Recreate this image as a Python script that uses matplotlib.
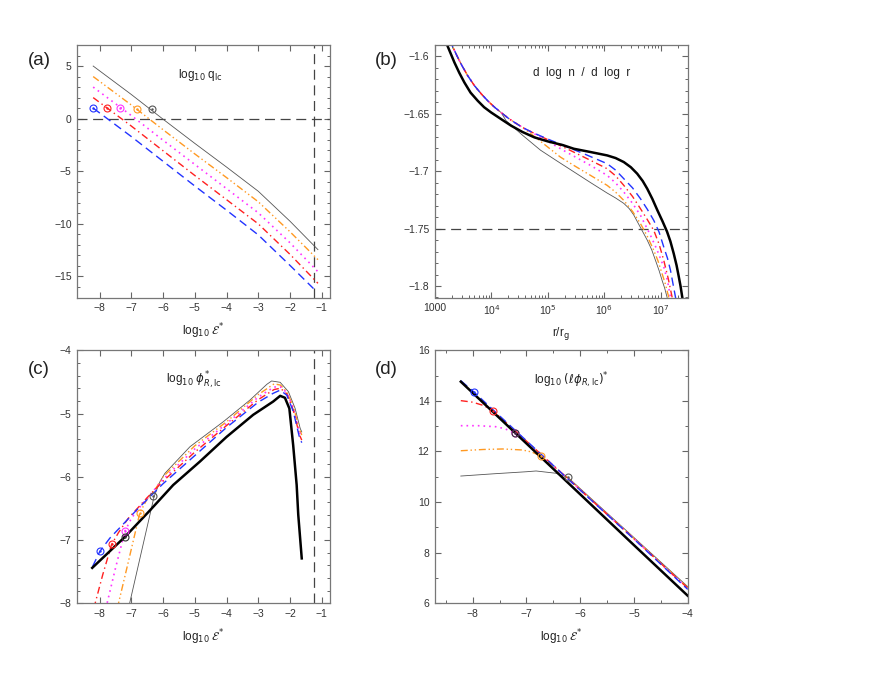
import matplotlib
matplotlib.use('Agg')
import matplotlib.pyplot as plt
import numpy as np
from matplotlib.ticker import MultipleLocator, FixedLocator, FuncFormatter, LogLocator, NullFormatter

plt.rcParams['font.family'] = ['Liberation Sans', 'DejaVu Sans']
plt.rcParams['mathtext.fontset'] = 'dejavusans'

# ---------------- Panel (a): log10 q_lc vs log10 E* ----------------
xa = [-8.2, -7.0, -6.0, -5.0, -4.0, -3.0, -2.0, -1.12]
qa_gray = [5.0, 2.3, -0.05, -2.35, -4.6, -6.9, -9.75, -12.45]
qa_orange = [4.0, 1.3, -1.05, -3.35, -5.6, -7.9, -10.75, -13.4]
qa_magenta = [3.0, 0.3, -2.05, -4.35, -6.65, -8.95, -11.8, -14.55]
qa_red = [2.0, -0.7, -3.05, -5.4, -7.7, -10.0, -12.9, -15.65]
xa_blue = [-8.2, -7.0, -6.0, -5.0, -4.0, -3.0, -2.0, -1.26]
qa_blue = [1.0, -1.7, -4.05, -6.4, -8.7, -11.05, -13.95, -16.15]
ma_x = [-8.2, -7.78, -7.34, -6.83, -6.36]
ma_y = [1.05, 1.0, 1.0, 0.88, 0.87]
ma_c = ['blue', 'red', 'magenta', 'orange', 'gray']

# ---------------- Panel (b): d log n / d log r vs r/r_g (log10 r given) ----------------
lb_black = [3.18, 3.215, 3.27, 3.344, 3.43, 3.52, 3.63, 3.757, 3.87, 3.995, 4.2, 4.349, 4.55,
            4.762, 5.0, 5.264, 5.459, 5.75, 6.05, 6.2, 6.345, 6.47, 6.582, 6.68, 6.76, 6.85,
            6.94, 7.03, 7.11, 7.17, 7.23, 7.28, 7.32, 7.35, 7.38, 7.40]
sb_black = [-1.585, -1.590, -1.5965, -1.6052, -1.6142, -1.6226, -1.6315, -1.6386, -1.6442,
            -1.6488, -1.6555, -1.6603, -1.6658, -1.6705, -1.674, -1.6772, -1.6804, -1.6832,
            -1.6862, -1.6885, -1.692, -1.6965, -1.7021, -1.7085, -1.7152, -1.724, -1.734,
            -1.7435, -1.7525, -1.761, -1.7718, -1.782, -1.7921, -1.80, -1.8095, -1.815]
lb_common = [3.26, 3.30, 3.38, 3.463, 3.58, 3.70, 3.82, 3.934, 4.05, 4.17, 4.29, 4.41, 4.55, 4.70]
sb_common = [-1.585, -1.590, -1.5985, -1.6067, -1.6168, -1.6255, -1.6326, -1.6386, -1.644,
             -1.6488, -1.6535, -1.6575, -1.6618, -1.6656]
lb_blue = [5.0, 5.3, 5.635, 6.05, 6.2, 6.345, 6.5, 6.64, 6.76, 6.876, 6.97, 7.053, 7.12, 7.172, 7.26, 7.28]
sb_blue = [-1.672, -1.678, -1.6847, -1.6934, -1.699, -1.7065, -1.7145, -1.7239, -1.733, -1.7428,
           -1.753, -1.766, -1.776, -1.7863, -1.8095, -1.815]
lb_red = [5.0, 5.3, 5.755, 6.05, 6.2, 6.345, 6.5, 6.64, 6.76, 6.876, 6.97, 7.053, 7.13, 7.2, 7.22]
sb_red = [-1.6725, -1.6795, -1.6905, -1.6978, -1.704, -1.7123, -1.722, -1.7326, -1.742, -1.7515,
          -1.7635, -1.7776, -1.793, -1.8095, -1.815]
lb_magenta = [5.0, 5.3, 5.755, 6.05, 6.2, 6.345, 6.5, 6.64, 6.8, 6.93, 7.053, 7.12, 7.17, 7.19]
sb_magenta = [-1.674, -1.6825, -1.6949, -1.7036, -1.7102, -1.7181, -1.728, -1.7384, -1.754,
              -1.768, -1.7834, -1.7955, -1.8095, -1.815]
lb_orange = [4.55, 4.65, 4.82, 5.0, 5.223, 5.459, 5.755, 6.05, 6.2, 6.345, 6.5, 6.64, 6.76, 6.876,
             6.95, 7.023, 7.08, 7.14, 7.16]
sb_orange = [-1.6618, -1.6655, -1.672, -1.679, -1.6877, -1.6949, -1.7036, -1.7123, -1.7182,
             -1.7254, -1.735, -1.7456, -1.7565, -1.7689, -1.778, -1.7892, -1.798, -1.8095, -1.815]
lb_gray = [4.17, 4.26, 4.56, 4.868, 5.16, 5.46, 5.75, 6.05, 6.2, 6.345, 6.44, 6.52, 6.64, 6.76,
           6.84, 6.906, 6.97, 7.023, 7.07, 7.11, 7.13]
sb_gray = [-1.6488, -1.656, -1.669, -1.6816, -1.691, -1.7005, -1.7097, -1.719, -1.7233, -1.728,
           -1.7325, -1.738, -1.749, -1.760, -1.7685, -1.7776, -1.7865, -1.795, -1.802, -1.8095, -1.815]

# ---------------- Panel (c): log10 phi*_R,lc vs log10 E* ----------------
xc_black = [-8.23, -7.2, -6.41, -5.68, -4.84, -4.0, -3.16, -2.53, -2.31, -2.16, -2.02, -1.9, -1.79, -1.74, -1.63]
yc_black = [-7.44, -6.95, -6.53, -6.13, -5.76, -5.37, -5.02, -4.81, -4.72, -4.75, -4.92, -5.5, -6.13, -6.6, -7.29]
xc_gray = [-7.12, -6.28, -6.1, -5.94, -5.15, -4.1, -3.26, -2.73, -2.58, -2.31, -2.05, -1.84, -1.68, -1.63]
yc_gray = [-8.15, -6.31, -6.08, -5.945, -5.524, -5.129, -4.786, -4.538, -4.485, -4.506, -4.654, -4.917, -5.233, -5.29]
xc_blue = [-8.22, -7.99, -7.675, -6.83, -6.0, -5.0, -4.0, -3.0, -2.53, -2.31, -2.1, -1.9, -1.7, -1.63]
yc_blue = [-7.42, -7.18, -6.97, -6.525, -6.11, -5.665, -5.22, -4.82, -4.68, -4.63, -4.71, -4.96, -5.38, -5.46]
xc_red = [-8.18, -7.9, -7.62, -7.4, -7.1, -6.5, -6.0, -5.0, -4.0, -3.0, -2.5, -2.3, -2.1, -1.9, -1.7, -1.63]
yc_red = [-8.08, -7.55, -7.07, -6.88, -6.66, -6.33, -6.07, -5.61, -5.19, -4.78, -4.62, -4.6, -4.69, -4.94, -5.34, -5.42]
xc_magenta = [-7.8, -7.5, -7.2, -7.0, -6.8, -6.0, -5.0, -4.0, -3.0, -2.5, -2.3, -2.1, -1.9, -1.7, -1.63]
yc_magenta = [-8.08, -7.45, -6.86, -6.66, -6.52, -6.04, -5.56, -5.16, -4.74, -4.58, -4.58, -4.67, -4.91, -5.3, -5.38]
xc_orange = [-7.44, -7.1, -6.73, -6.5, -6.26, -6.0, -5.0, -4.0, -3.0, -2.5, -2.3, -2.1, -1.9, -1.7, -1.63]
yc_orange = [-8.08, -7.36, -6.57, -6.35, -6.21, -6.0, -5.51, -5.13, -4.70, -4.53, -4.55, -4.66, -4.88, -5.25, -5.34]
mc_x = [-7.99, -7.62, -7.2, -7.2, -6.73, -6.3]
mc_y = [-7.18, -7.07, -6.86, -6.95, -6.57, -6.31]
mc_c = ['blue', 'red', 'magenta', 'black', 'orange', 'gray']

# ---------------- Panel (d): log10 (l phi_R,lc)* vs log10 E* ----------------
xd_black = [-8.22, -7.2, -6.0, -5.0, -4.0]
yd_black = [14.76, 12.72, 10.31, 8.30, 6.30]
xd_blue = [-8.22, -7.98, -7.2, -6.23, -5.0, -4.0]
yd_blue = [14.8, 14.36, 12.82, 10.92, 8.54, 6.55]
xd_red = [-8.22, -8.0, -7.8, -7.62, -7.2, -6.23, -5.0, -4.0]
yd_red = [14.01, 13.95, 13.82, 13.61, 12.8, 10.93, 8.55, 6.6]
xd_magenta = [-8.22, -7.9, -7.57, -7.4, -7.21, -6.73, -6.23, -5.0, -4.0]
yd_magenta = [13.02, 13.02, 12.98, 12.9, 12.72, 11.85, 10.93, 8.55, 6.58]
xd_orange = [-8.22, -7.8, -7.44, -7.07, -6.9, -6.73, -6.23, -5.0, -4.0]
yd_orange = [12.03, 12.08, 12.1, 12.06, 11.98, 11.82, 10.95, 8.56, 6.62]
xd_gray = [-8.22, -7.6, -7.0, -6.82, -6.45, -6.23, -5.0, -4.0]
yd_gray = [11.03, 11.12, 11.2, 11.23, 11.14, 10.98, 8.6, 6.66]
md_x = [-7.98, -7.62, -7.21, -7.21, -6.73, -6.23]
md_y = [14.36, 13.61, 12.72, 12.72, 11.82, 10.98]
md_c = ['blue', 'red', 'magenta', 'black', 'orange', 'gray']

STY = {
    'blue': dict(color='#2233ff', lw=1.0, dashes=(6, 3.5)),
    'red': dict(color='#ff2020', lw=1.0, dashes=(5, 2.5, 1, 2.5)),
    'magenta': dict(color='#ff33ff', lw=1.2, dashes=(1, 2.4)),
    'orange': dict(color='#ff9922', lw=1.0, dashes=(5, 2, 1, 2, 1, 2)),
    'gray': dict(color='#555555', lw=0.6),
    'black': dict(color='black', lw=1.8),
}
MCOL = {'blue': '#2233ff', 'red': '#ff2020', 'magenta': '#ff33ff',
        'orange': '#ff9922', 'gray': '#555555', 'black': '#333333'}
REF = dict(color='#444444', lw=0.9, dashes=(8, 4.5))

fig = plt.figure(figsize=(8.72, 6.74), dpi=100)
W = 252.7 / 872
axa = fig.add_axes([77.3 / 872, 1 - 297.5 / 674, W, 252.5 / 674])
axb = fig.add_axes([435 / 872, 1 - 297.5 / 674, W, 252.5 / 674])
axc = fig.add_axes([77.3 / 872, 1 - 603.3 / 674, W, 253 / 674])
axd = fig.add_axes([435 / 872, 1 - 603.3 / 674, W, 253 / 674])


def style_axes(ax):
    for s in ax.spines.values():
        s.set_color('#777777')
        s.set_linewidth(0.9)
    ax.tick_params(which='both', direction='in', top=True, right=True,
                   color='#666666', labelcolor='#333333', labelsize=7.5)
    ax.tick_params(which='major', length=4, width=0.8, pad=4)
    ax.tick_params(which='minor', length=2, width=0.7)


def markers(ax, xs, ys, cs):
    for x, y, c in zip(xs, ys, cs):
        ax.plot([x], [y], 'o', mfc='none', mec=MCOL[c], ms=5, mew=0.8, zorder=5)
        ax.plot([x], [y], '.', color=MCOL[c], ms=1.5, zorder=5)


minus = lambda v, p: ('%g' % v).replace('-', '\u2212')
LABKW = dict(fontsize=8.5, labelpad=6, color='#222222')
TITKW = dict(ha='center', va='center', fontsize=8.5, color='#222222')

# ---- (a)
ax = axa
ax.axhline(0, **REF)
ax.axvline(-1.23, **REF)
ax.plot(xa, qa_gray, **STY['gray'])
ax.plot(xa, qa_orange, **STY['orange'])
ax.plot(xa, qa_magenta, **STY['magenta'])
ax.plot(xa, qa_red, **STY['red'])
ax.plot(xa_blue, qa_blue, **STY['blue'])
markers(ax, ma_x, ma_y, ma_c)
ax.set_xlim(-8.7, -0.74)
ax.set_ylim(-17, 7)
ax.xaxis.set_major_locator(MultipleLocator(1))
ax.yaxis.set_major_locator(MultipleLocator(5))
ax.yaxis.set_minor_locator(MultipleLocator(1))
ax.xaxis.set_major_formatter(FuncFormatter(minus))
ax.yaxis.set_major_formatter(FuncFormatter(minus))
ax.text(0.486, 0.881, r'log$_{10}$ q$_{\mathrm{lc}}$', transform=ax.transAxes, **TITKW)
ax.set_xlabel(r'log$_{10}$ $\mathcal{E}^{*}$', **LABKW)

# ---- (b)
ax = axb
ax.set_xscale('log')
ax.axhline(-1.75, **REF)
ax.plot(10 ** np.array(lb_common[:9] + lb_gray), sb_common[:9] + sb_gray, **STY['gray'])
n_or = len([v for v in lb_common if v < 4.55])
for name, lx, sy in [('orange', lb_orange, sb_orange), ('magenta', lb_magenta, sb_magenta),
                     ('red', lb_red, sb_red), ('blue', lb_blue, sb_blue)]:
    if name == 'orange':
        cx = lb_common[:n_or] + lx
        cy = sb_common[:n_or] + sy
    else:
        cx = lb_common + lx
        cy = sb_common + sy
    ax.plot(10 ** np.array(cx), cy, **STY[name])
ax.plot(10 ** np.array(lb_black), sb_black, **STY['black'])
ax.set_xlim(1e3, 3e7)
ax.set_ylim(-1.81, -1.59)
ax.xaxis.set_major_locator(FixedLocator([1e3, 1e4, 1e5, 1e6, 1e7]))
ax.xaxis.set_major_formatter(FuncFormatter(
    lambda v, p: '1000' if abs(v - 1e3) < 1 else r'10$^{%d}$' % round(np.log10(v))))
ax.xaxis.set_minor_locator(LogLocator(base=10, subs=np.arange(2, 10)))
ax.xaxis.set_minor_formatter(NullFormatter())
ax.yaxis.set_major_locator(FixedLocator([-1.8, -1.75, -1.7, -1.65, -1.6]))
ax.yaxis.set_minor_locator(MultipleLocator(0.01))
ax.yaxis.set_major_formatter(FuncFormatter(minus))
ax.text(0.58, 0.888, 'd  log  n  /  d  log  r', transform=ax.transAxes, **TITKW)
ax.set_xlabel(r'r/r$_{\mathrm{g}}$', **LABKW)

# ---- (c)
ax = axc
ax.axvline(-1.23, **REF)
ax.plot(xc_gray, yc_gray, **STY['gray'])
ax.plot(xc_orange, yc_orange, **STY['orange'])
ax.plot(xc_magenta, yc_magenta, **STY['magenta'])
ax.plot(xc_red, yc_red, **STY['red'])
ax.plot(xc_blue, yc_blue, **STY['blue'])
ax.plot(xc_black, yc_black, **STY['black'])
markers(ax, mc_x, mc_y, mc_c)
ax.set_xlim(-8.7, -0.74)
ax.set_ylim(-8, -4)
ax.xaxis.set_major_locator(MultipleLocator(1))
ax.yaxis.set_major_locator(MultipleLocator(1))
ax.yaxis.set_minor_locator(MultipleLocator(0.2))
ax.xaxis.set_major_formatter(FuncFormatter(minus))
ax.yaxis.set_major_formatter(FuncFormatter(minus))
ax.text(0.462, 0.883, r'log$_{10}$ $\phi^{*}_{R,\mathrm{lc}}$', transform=ax.transAxes, **TITKW)
ax.set_xlabel(r'log$_{10}$ $\mathcal{E}^{*}$', **LABKW)

# ---- (d)
ax = axd
ax.plot(xd_gray, yd_gray, **STY['gray'])
ax.plot(xd_orange, yd_orange, **STY['orange'])
ax.plot(xd_magenta, yd_magenta, **STY['magenta'])
ax.plot(xd_red, yd_red, **STY['red'])
ax.plot(xd_blue, yd_blue, **STY['blue'])
ax.plot(xd_black, yd_black, **STY['black'])
markers(ax, md_x, md_y, md_c)
ax.set_xlim(-8.7, -4)
ax.set_ylim(6, 16)
ax.xaxis.set_major_locator(MultipleLocator(1))
ax.xaxis.set_minor_locator(MultipleLocator(0.5))
ax.yaxis.set_major_locator(MultipleLocator(2))
ax.yaxis.set_minor_locator(MultipleLocator(1))
ax.xaxis.set_major_formatter(FuncFormatter(minus))
ax.yaxis.set_major_formatter(FuncFormatter(minus))
ax.text(0.538, 0.883, r'log$_{10}$ $(\ell\phi_{R,\mathrm{lc}})^{*}$', transform=ax.transAxes, **TITKW)
ax.set_xlabel(r'log$_{10}$ $\mathcal{E}^{*}$', **LABKW)

for a in (axa, axb, axc, axd):
    style_axes(a)

for lab, x, y in [('(a)', 39, 60.5), ('(b)', 386, 60.5), ('(c)', 39, 370), ('(d)', 386, 370)]:
    fig.text(x / 872, 1 - y / 674, lab, ha='center', va='center', fontsize=13.5, color='#222222')

fig.savefig('out.png', dpi=100)
